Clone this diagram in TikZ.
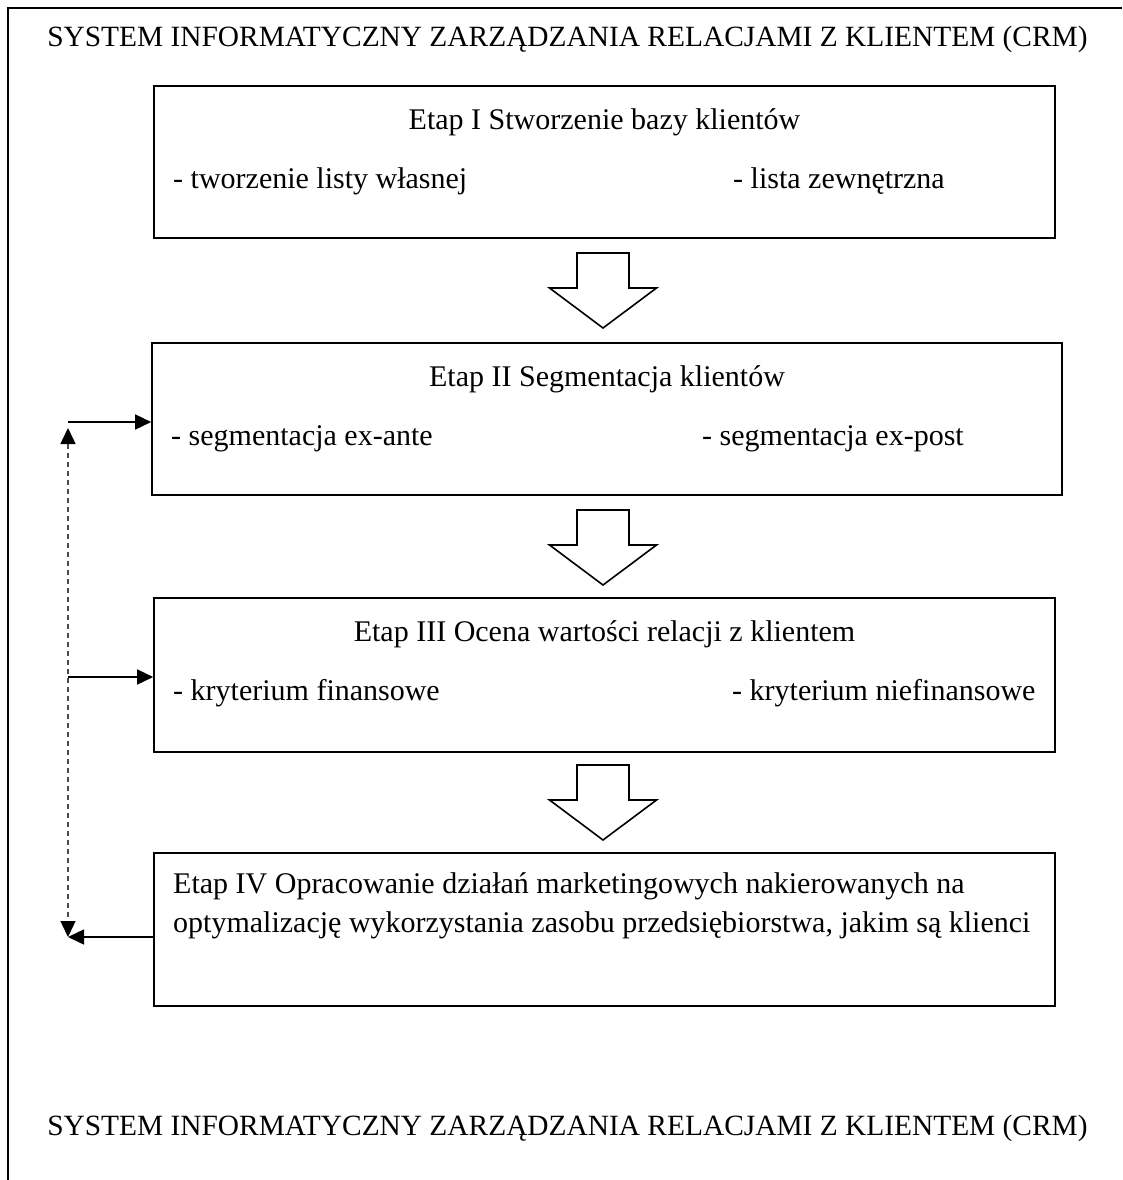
\documentclass[tikz,border=0pt]{standalone}
\usepackage{fontspec}
\setmainfont{Liberation Serif}
\usepackage{tikz}
\usetikzlibrary{arrows.meta}
\usetikzlibrary{positioning}
\tikzset{
    stagebox/.style = {rectangle, draw=black, line width=1.6pt, inner sep=0pt},
    headtxt/.style = {inner sep=0pt, anchor=base, font=\fontsize{29.4}{34}\selectfont},
    stagetxt/.style = {inner sep=0pt, anchor=base, font=\fontsize{30}{34}\selectfont},
    itemtxt/.style = {inner sep=0pt, anchor=base west, font=\fontsize{30}{34}\selectfont},
    downarrow/.pic = {\draw[line width=1.6pt, fill=white] (-26,0) -- (26,0) -- (26,35) -- (53.5,35) -- (0,75) -- (-53.5,35) -- (-26,35) -- cycle;}
}

\begin{document}
\begin{tikzpicture}[
	x=1pt, y=-1pt
]
\tikzset{
    sidearr/.style = {line width=1.5pt, -{Triangle[length=16pt,width=15pt]}},
    backarr/.style = {line width=1.5pt, black!70, dash pattern=on 5pt off 4pt, {Triangle[length=16pt,width=15pt,black]}-{Triangle[length=16pt,width=15pt,black]}}
}
\useasboundingbox (0,0) rectangle (1122,1180);
\draw[line width=2pt] (1122,8) -- (8,8) -- (8,1180);
\node[headtxt] (top) at (567.5,47) {SYSTEM INFORMATYCZNY ZARZĄDZANIA RELACJAMI Z KLIENTEM (CRM)};
\node[headtxt] (bottom) at (567.5,1135) {SYSTEM INFORMATYCZNY ZARZĄDZANIA RELACJAMI Z KLIENTEM (CRM)};
%
\node[stagebox, minimum width=901pt, minimum height=152pt] (s1) at (604.5,162) {};
\node[stagetxt] (s1t) at (604.5,129) {Etap I Stworzenie bazy klientów};
\node[itemtxt] (s1a) at (173,188) {- tworzenie listy własnej};
\node[itemtxt] (s1b) at (733,188) {- lista zewnętrzna};
%
\node[stagebox, minimum width=910pt, minimum height=152pt] (s2) at (607,419) {};
\node[stagetxt] (s2t) at (607,386) {Etap II Segmentacja klientów};
\node[itemtxt] (s2a) at (171,445) {- segmentacja ex-ante};
\node[itemtxt] (s2b) at (702,445) {- segmentacja ex-post};
%
\node[stagebox, minimum width=901pt, minimum height=154pt] (s3) at (604.5,675) {};
\node[stagetxt] (s3t) at (604.5,641) {Etap III Ocena wartości relacji z klientem};
\node[itemtxt] (s3a) at (173,700) {- kryterium finansowe};
\node[itemtxt] (s3b) at (732,700) {- kryterium niefinansowe};
%
\node[stagebox, minimum width=901pt, minimum height=153pt] (s4) at (604.5,929.5) {};
\node[itemtxt] (s4a) at (173,893) {Etap IV Opracowanie działań marketingowych nakierowanych na};
\node[itemtxt] (s4b) at (173,932) {optymalizację wykorzystania zasobu przedsiębiorstwa, jakim są klienci};
%
\pic at (603,253) {downarrow};
\pic at (603,510) {downarrow};
\pic at (603,765) {downarrow};
%
\coordinate (c2) at (68,422);
\coordinate (c2b) at (68,428);
\coordinate (c3) at (68,677);
\coordinate (c4) at (68,937);
\draw[sidearr] (c2) -- (c2 -| s2.west);
\draw[sidearr] (c3) -- (c3 -| s3.west);
\draw[sidearr] (c4 -| s4.west) -- (c4);
\draw[backarr] (c2b) -- (c4);
\end{tikzpicture}
\end{document}
